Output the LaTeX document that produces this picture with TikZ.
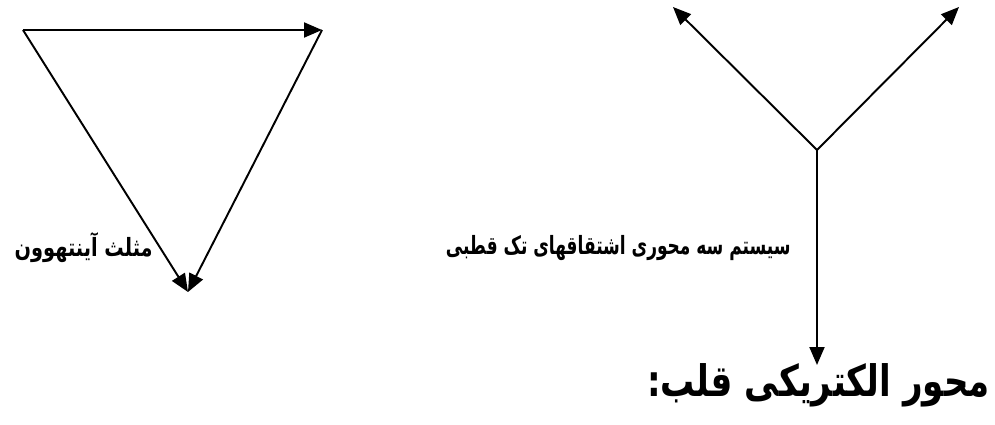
\documentclass[tikz,border=0pt]{standalone}
\usepackage{fontspec}
\usepackage{graphicx}
\usetikzlibrary{arrows.meta,positioning}
\newfontfamily\arabicfont[Script=Arabic]{DejaVu Sans}
\TeXXeTstate=1

\begin{document}
\begin{tikzpicture}[
    x=0.02cm, y=-0.02cm,
    arr/.style={-{Triangle[length=0.36cm,width=0.3cm]}, line width=1.1pt, black},
    lbl/.style={font=\arabicfont\bfseries\fontsize{11}{13}\selectfont, inner sep=0pt},
    ttl/.style={font=\arabicfont\bfseries\fontsize{19}{22}\selectfont, inner sep=0pt}
]
\useasboundingbox (0,0) rectangle (995,425);

% --- Left: Einthoven triangle ---
\coordinate (ra) at (23,30);
\coordinate (la) at (322,30);
\coordinate (ll) at (188,292);
\draw[arr] (ra) -- (la);
\draw[arr] (ra) -- (ll);
\draw[arr] (la) -- (ll);
\node[lbl, anchor=east] (tri) at (153,248) {\scalebox{1.0}[1.3]{\beginR مثلث آینتهوون\endR}};

% --- Right: unipolar three-axis system ---
\coordinate (ctr) at (817,150);
\coordinate (avr) at (673,7);
\coordinate (avl) at (959,7);
\coordinate (avf) at (817,365);
\draw[arr] (ctr) -- (avr);
\draw[arr] (ctr) -- (avl);
\draw[arr] (ctr) -- (avf);
\node[lbl, anchor=east] (sys) at (791,248) {\scalebox{0.88}[1.3]{\beginR سیستم سه محوری اشتقاقهای تک قطبی\endR}};

% --- Title ---
\node[ttl, anchor=east] (axis) at (990,385) {\scalebox{1.02}[1.3]{\beginR محور الکتریکی قلب:\endR}};
\end{tikzpicture}
\end{document}
